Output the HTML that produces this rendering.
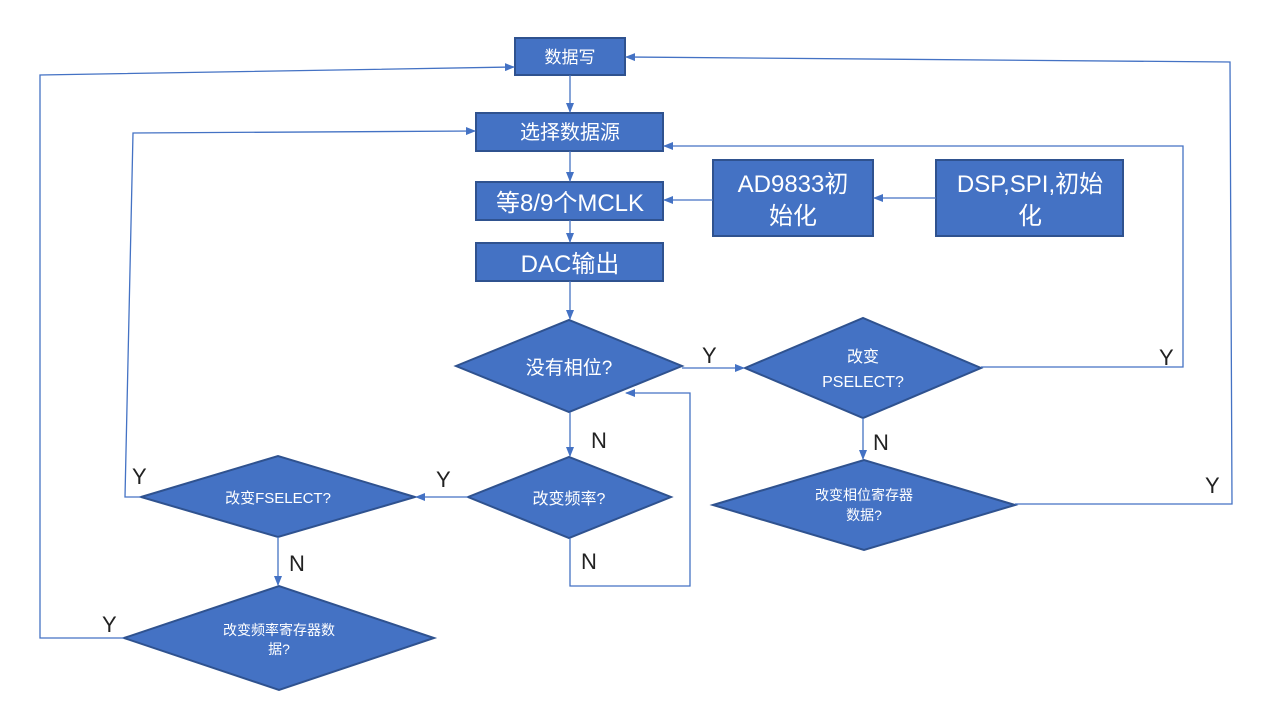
<!DOCTYPE html>
<html><head><meta charset="utf-8"><style>
html,body{margin:0;padding:0;background:#fff;width:1265px;height:711px;overflow:hidden}
svg text{font-family:"Liberation Sans","Noto Sans CJK SC",sans-serif}
</style></head><body>
<svg width="1265" height="711" viewBox="0 0 1265 711" xmlns="http://www.w3.org/2000/svg">
<defs><marker id="a" markerWidth="10" markerHeight="8" refX="9" refY="4" orient="auto" markerUnits="userSpaceOnUse"><path d="M0,0 L10,4 L0,8 Z" fill="#4472C4"/></marker></defs>
<g fill="#4472C4" stroke="#2F528F" stroke-width="2">
<rect x="515" y="38" width="110" height="37"/>
<rect x="476" y="113" width="187" height="38"/>
<rect x="476" y="182" width="187" height="38"/>
<rect x="476" y="243" width="187" height="38"/>
<rect x="713" y="160" width="160" height="76"/>
<rect x="936" y="160" width="187" height="76"/>
<polygon points="456,366 569,320 682,366 569,412"/>
<polygon points="745,368 863,318 981,368 863,418"/>
<polygon points="713,505 864,460 1015,505 864,550"/>
<polygon points="468,497 569,457 671,497 569,538"/>
<polygon points="141,497 278,456 415,497 278,537"/>
<polygon points="124,638 279,586 434,638 279,690"/>
</g>
<g stroke="#4472C4" stroke-width="1.3" fill="none">
<line x1="570" y1="75" x2="570" y2="112" marker-end="url(#a)"/>
<line x1="570" y1="151" x2="570" y2="181" marker-end="url(#a)"/>
<line x1="570" y1="220" x2="570" y2="242" marker-end="url(#a)"/>
<line x1="570" y1="281" x2="570" y2="319" marker-end="url(#a)"/>
<line x1="936" y1="198" x2="874" y2="198" marker-end="url(#a)"/>
<line x1="713" y1="200" x2="664" y2="200" marker-end="url(#a)"/>
<line x1="682" y1="368" x2="744" y2="368" marker-end="url(#a)"/>
<polyline points="981,367 1183,367 1183,146 664,146" marker-end="url(#a)"/>
<line x1="863" y1="418" x2="863" y2="459" marker-end="url(#a)"/>
<polyline points="1015,504 1232,504 1230,62 626,57" marker-end="url(#a)"/>
<line x1="570" y1="412" x2="570" y2="456" marker-end="url(#a)"/>
<polyline points="570,538 570,586 690,586 690,393 626,393" marker-end="url(#a)"/>
<line x1="468" y1="497" x2="416" y2="497" marker-end="url(#a)"/>
<polyline points="141,497 125,497 133,133 475,131" marker-end="url(#a)"/>
<line x1="278" y1="537" x2="278" y2="585" marker-end="url(#a)"/>
<polyline points="124,638 40,638 40,75 514,67" marker-end="url(#a)"/>
</g>
<g fill="#fff" text-anchor="middle">
<text x="570" y="63" font-size="17">数据写</text>
<text x="570" y="139" font-size="20">选择数据源</text>
<text x="570" y="211" font-size="24">等8/9个MCLK</text>
<text x="570" y="272" font-size="24">DAC输出</text>
<text x="793" y="192" font-size="24">AD9833初</text>
<text x="793" y="224" font-size="24">始化</text>
<text x="1030" y="192" font-size="24">DSP,SPI,初始</text>
<text x="1030" y="224" font-size="24">化</text>
<text x="569" y="374" font-size="19">没有相位?</text>
<text x="863" y="362" font-size="16">改变</text>
<text x="863" y="387" font-size="16">PSELECT?</text>
<text x="864" y="500" font-size="14">改变相位寄存器</text>
<text x="864" y="520" font-size="14">数据?</text>
<text x="569" y="504" font-size="16">改变频率?</text>
<text x="278" y="503" font-size="15">改变FSELECT?</text>
<text x="279" y="635" font-size="14">改变频率寄存器数</text>
<text x="279" y="654" font-size="14">据?</text>
</g>
<g fill="#222" font-size="22">
<text x="702" y="363">Y</text>
<text x="1159" y="365">Y</text>
<text x="873" y="450">N</text>
<text x="1205" y="493">Y</text>
<text x="591" y="448">N</text>
<text x="581" y="569">N</text>
<text x="436" y="487">Y</text>
<text x="132" y="484">Y</text>
<text x="289" y="571">N</text>
<text x="102" y="632">Y</text>
</g>
</svg>
</body></html>
